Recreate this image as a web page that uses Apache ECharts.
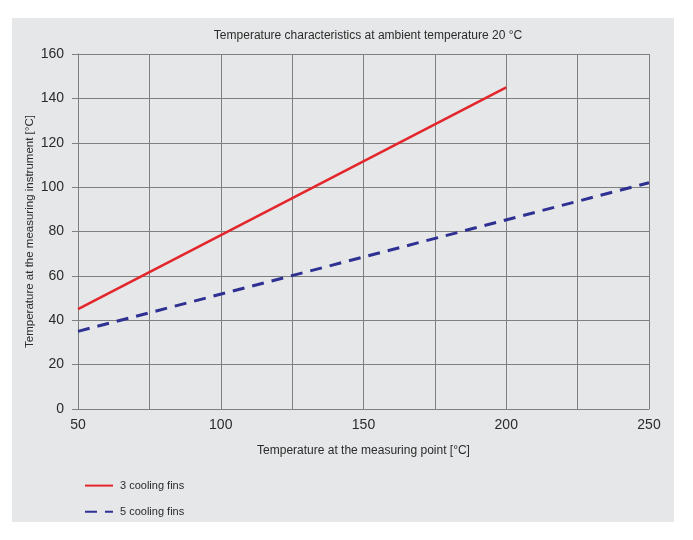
<!DOCTYPE html>
<html>
<head>
<meta charset="utf-8">
<script src="https://cdn.jsdelivr.net/npm/echarts@6/dist/echarts.min.js"></script>
<style>
  html, body { margin: 0; padding: 0; background: #fff; }
  #main { width: 693px; height: 540px; }
</style>
</head>
<body>
<div id="main"></div>
<script>
var chart = echarts.init(document.getElementById('main'));

// values
var titleText = 'Temperature characteristics at ambient temperature 20 °C';
var xName = 'Temperature at the measuring point [°C]';
var yName = 'Temperature at the measuring instrument [°C]';
var seriesNames = ['3 cooling fins', '5 cooling fins'];
var fins3 = [[50, 45], [200, 145]];
var fins5 = [[50, 35], [250, 102]];

var font = 'Liberation Sans, Arial, sans-serif';
var gridColor = '#7f7f7f';

chart.setOption({
  backgroundColor: '#fff',
  textStyle: { fontFamily: font },
  graphic: [{
    type: 'rect', z: -10, silent: true,
    shape: { x: 12, y: 18, width: 662, height: 504 },
    style: { fill: '#e6e7e8' }
  }],
  title: {
    text: titleText, left: 363, top: 25, textAlign: 'center',
    textStyle: { fontSize: 12, fontWeight: 'normal', color: '#2b2b2b', fontFamily: font }
  },
  legend: {
    orient: 'vertical', left: 79, top: 475, itemGap: 15,
    itemWidth: 28, itemHeight: 14,
    itemStyle: { opacity: 0 },
    textStyle: { fontSize: 11, color: '#2b2b2b', fontFamily: font, padding: [0, 0, 0, 2] },
    data: seriesNames
  },
  grid: { left: 78, right: 44, top: 54, bottom: 131 },
  xAxis: {
    type: 'value', min: 50, max: 250, interval: 25,
    name: xName, nameLocation: 'middle', nameGap: 36,
    nameTextStyle: { fontSize: 12, color: '#2b2b2b' },
    axisLine: { show: true, lineStyle: { color: gridColor } },
    axisTick: { show: false },
    axisLabel: {
      fontSize: 14, color: '#2b2b2b', margin: 9,
      formatter: function (v) { return v % 50 === 0 ? String(v) : ''; }
    },
    splitLine: { show: true, lineStyle: { color: gridColor, width: 1 } }
  },
  yAxis: {
    type: 'value', min: 0, max: 160, interval: 20,
    name: yName, nameLocation: 'middle', nameGap: 42, nameRotate: 90,
    nameMoveOverlap: false,
    nameTextStyle: { fontSize: 11.5, color: '#2b2b2b' },
    axisLine: { show: true, lineStyle: { color: gridColor } },
    axisTick: { show: true, length: 6, lineStyle: { color: gridColor } },
    axisLabel: { fontSize: 14, color: '#2b2b2b', margin: 14 },
    splitLine: { show: true, lineStyle: { color: gridColor, width: 1 } }
  },
  series: [{
    name: seriesNames[0], type: 'line', data: fins3,
    symbol: 'none', color: '#e3262b',
    lineStyle: { width: 2.5, color: '#e3262b' }
  }, {
    name: seriesNames[1], type: 'line', data: fins5,
    symbol: 'none', color: '#2e3192',
    lineStyle: { width: 3, color: '#2e3192', type: [12, 8] }
  }]
});
</script>
</body>
</html>
